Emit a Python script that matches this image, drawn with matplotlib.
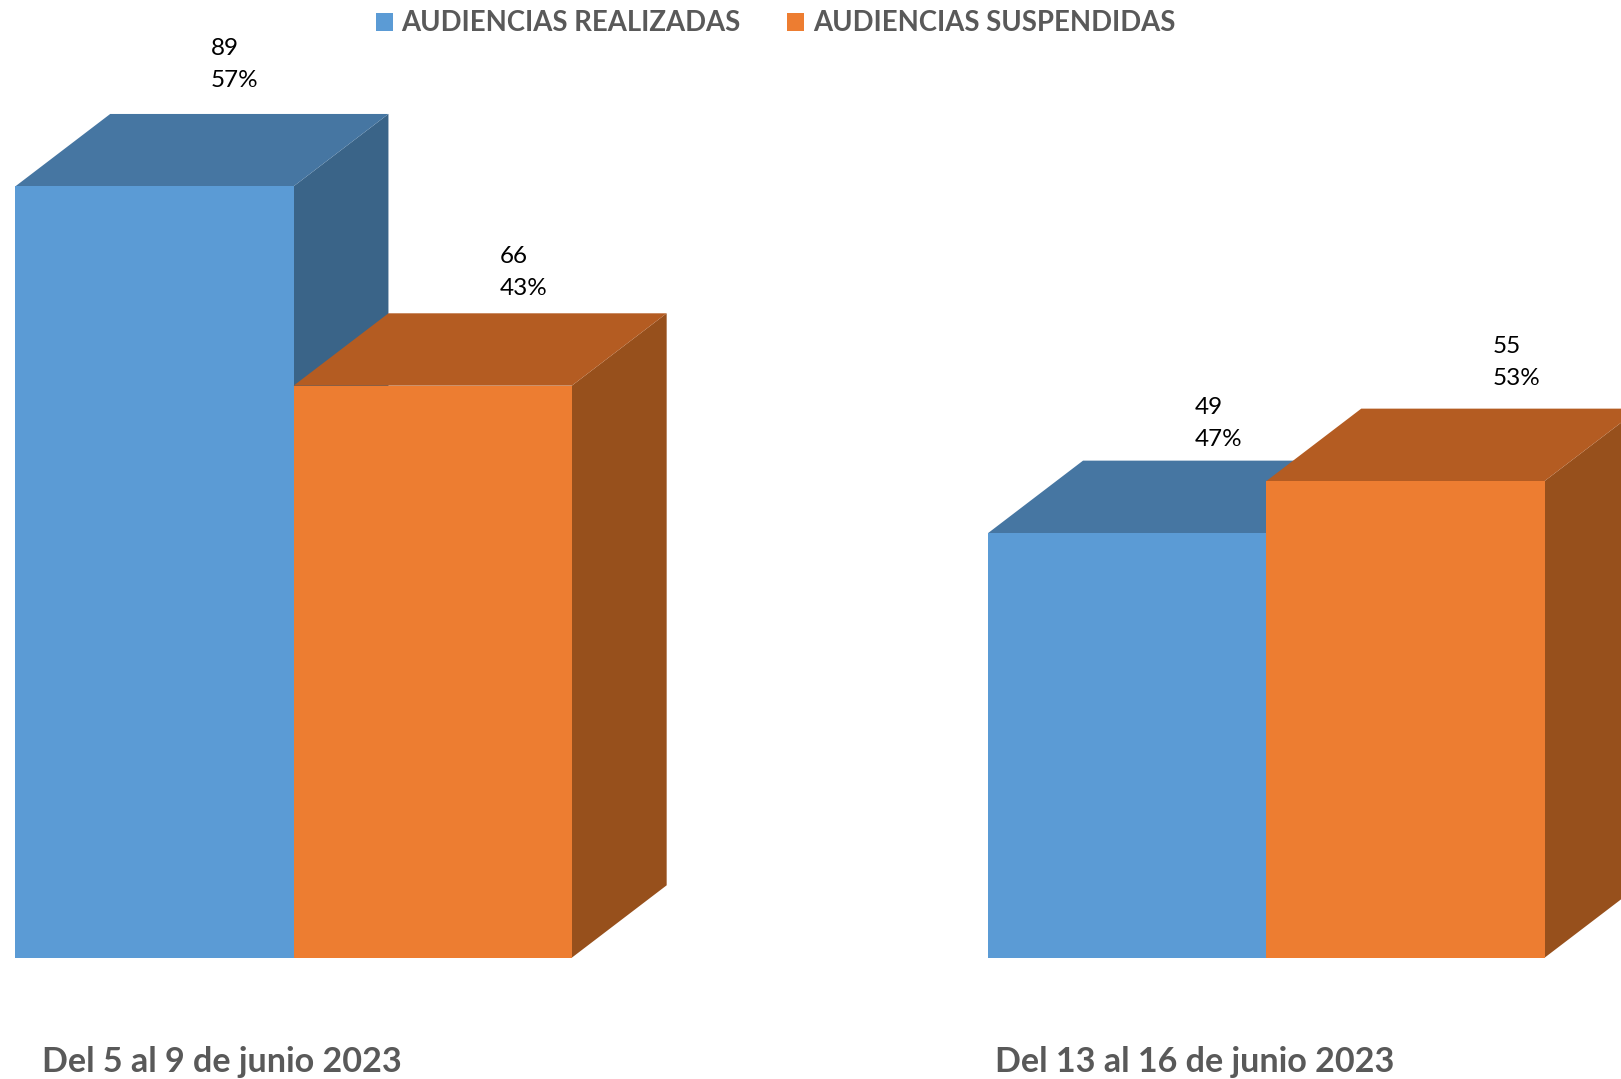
import matplotlib
matplotlib.use("Agg")
import matplotlib.pyplot as plt
from matplotlib.patches import Patch, Polygon

plt.rcParams['font.family'] = ['Lato', 'DejaVu Sans']

# datos
periodos = ["Del 5 al 9 de junio 2023", "Del 13 al 16 de junio 2023"]
series = ["AUDIENCIAS REALIZADAS", "AUDIENCIAS SUSPENDIDAS"]
realizadas = [89, 49]
suspendidas = [66, 55]
pct_realizadas = [57, 47]
pct_suspendidas = [43, 53]

# colores: frente, tapa, lado
azul = ("#5B9BD5", "#4676A2", "#3A6488")
naranja = ("#ED7D31", "#B45C22", "#97501C")

ancho = 0.286
prof_x = 0.0975
prof_y = 8.35

fig = plt.figure(figsize=(16.21, 10.79), dpi=100)
ax = fig.add_axes([0, 0, 1, 1])
ax.set_xlim(-0.3018, 1.3645)
ax.set_ylim(-14.0, 110.5)


def barra_3d(x0, valor, colores):
    x1 = x0 + ancho
    # lado, tapa y frente
    ax.add_patch(Polygon([(x1, 0), (x1 + prof_x, prof_y), (x1 + prof_x, valor + prof_y), (x1, valor)],
                         fc=colores[2], ec="none"))
    ax.add_patch(Polygon([(x0, valor), (x0 + prof_x, valor + prof_y), (x1 + prof_x, valor + prof_y), (x1, valor)],
                         fc=colores[1], ec="none"))
    ax.add_patch(Polygon([(x0, 0), (x1, 0), (x1, valor), (x0, valor)], fc=colores[0], ec="none"))


for i in range(len(periodos)):
    barra_3d(i - ancho, realizadas[i], azul)
    barra_3d(i, suspendidas[i], naranja)

# etiquetas colocadas a mano, como en el original
off_x_azul = [-0.085, -0.074]
off_x_nar = [0.2115, 0.233]
off_y_azul = [14.1, 12.64]
off_y_nar = [13.1, 13.64]
for i in range(len(periodos)):
    ax.text(i + off_x_azul[i], realizadas[i] + off_y_azul[i], f"{realizadas[i]}\n{pct_realizadas[i]}%",
            fontsize=17.5, color="black", va="center", ha="left", linespacing=1.66)
    ax.text(i + off_x_nar[i], suspendidas[i] + off_y_nar[i], f"{suspendidas[i]}\n{pct_suspendidas[i]}%",
            fontsize=17.5, color="black", va="center", ha="left", linespacing=1.66)

ax.set_xticks([i - 0.0733 for i in range(len(periodos))])
ax.set_xticklabels(periodos, fontsize=24.6, fontweight="bold", color="#595959")
ax.tick_params(axis="x", length=0, direction="in", pad=-24)
ax.set_yticks([])
for s in ax.spines.values():
    s.set_visible(False)

manejadores = [Patch(fc=azul[0], label=series[0]), Patch(fc=naranja[0], label=series[1])]
ax.legend(handles=manejadores, ncol=2, frameon=False, loc="upper center", bbox_to_anchor=(0.4783, 1.0057),
          prop={"size": 19.8, "weight": "bold"}, labelcolor="#595959", handlelength=0.63, handleheight=0.63,
          handletextpad=0.3, columnspacing=1.7, borderaxespad=0.2)

fig.savefig("out.png", dpi=100)
